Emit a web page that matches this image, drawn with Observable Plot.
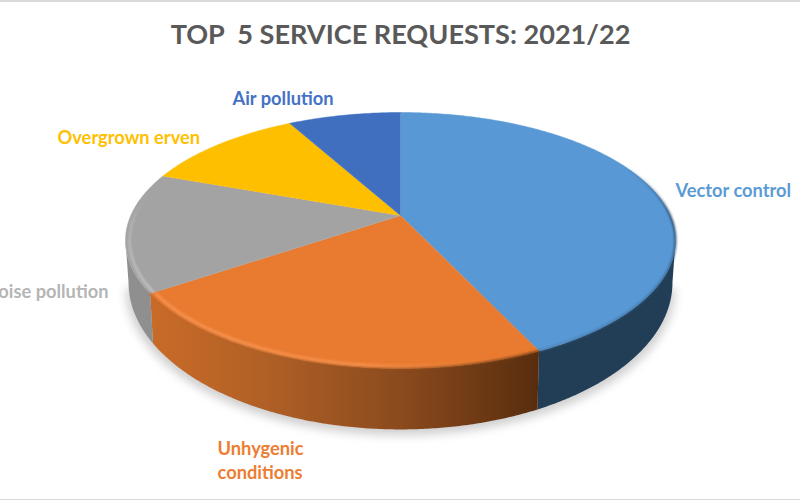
<!DOCTYPE html>
<html>
<head>
<meta charset="utf-8">
<script src="https://cdn.jsdelivr.net/npm/d3@7"></script>
<script src="https://cdn.jsdelivr.net/npm/@observablehq/plot@0.6"></script>
<style>html,body{margin:0;padding:0;background:#fff;overflow:hidden}</style>
</head>
<body>
<div id="chart"></div>
<script>
const titleText = "TOP  5 SERVICE REQUESTS: 2021/22";
const categories = ["Vector control", "Unhygenic conditions", "Noise pollution", "Overgrown erven", "Air pollution"];
const shares = [41.6, 26.6, 15.2, 10.0, 6.6];
const topColors = ["#5898d4", "#e97b30", "#a3a3a3", "#fdbf00", "#416fc0"];
const labelColors = ["#5b9bd5", "#ed7d31", "#b5b5b5", "#ffc000", "#4472c4"];
const wallFills = ["#223d56", "url(#orangeWall)", "#8f8f8f", "#997300", "#2a4478"];

// pie geometry (unit ellipse for the rim, tilted apex, perspective floor)
const apexY = -0.195;
const floor = {rx: 0.989, ry: 1.148, cy: 0.328};
const rad = d3.pie().sort(null).value(d => d)(shares);
const rim = a => ({x: Math.sin(a), y: -Math.cos(a)});
const base = a => ({x: floor.rx * Math.sin(a), y: floor.cy - floor.ry * Math.cos(a)});
const arc = (a0, a1, f) => {
  const n = Math.max(2, Math.ceil(Math.abs(a1 - a0) / 0.01));
  return d3.range(n + 1).map(i => f(a0 + (a1 - a0) * i / n));
};
const slicePts = s => [{x: 0, y: apexY}, ...arc(s.startAngle, s.endAngle, rim)];
const clipFront = s => [Math.max(s.startAngle, Math.PI / 2), Math.min(s.endAngle, 3 * Math.PI / 2)];
const wallPts = s => {
  const [a, b] = clipFront(s);
  if (b <= a) return null;
  return [...arc(a, b, rim), ...arc(b, a, base)];
};
const inset = k => a => ({x: k * Math.sin(a), y: -k * Math.cos(a)});

const marks = [];
// soft floor shadow
marks.push(Plot.line(arc(Math.PI / 2, 3 * Math.PI / 2, a => {
  const p = base(a); return {x: p.x * 1.01, y: p.y + 0.045};
}), {x: "x", y: "y", fill: "#cfcfcf", stroke: "none", imageFilter: "blur(5px)"}));
// walls
rad.forEach((s, i) => {
  const pts = wallPts(s);
  if (pts) marks.push(Plot.line(pts, {x: "x", y: "y", fill: wallFills[i], stroke: "none"}));
});
// top faces
rad.forEach((s, i) => {
  marks.push(Plot.line(slicePts(s), {x: "x", y: "y", fill: topColors[i], stroke: topColors[i], strokeWidth: 0.5}));
});
// bevel along the rim
const [sBlue, sOrange, sGray] = rad;
marks.push(Plot.line(arc(sOrange.startAngle, sOrange.endAngle, rim), {x: "x", y: "y", stroke: "url(#orangeRim)", strokeWidth: 2, imageFilter: "blur(1px)"}));
marks.push(Plot.line(arc(sOrange.startAngle + 0.01, sOrange.endAngle - 0.01, inset(0.982)), {x: "x", y: "y", stroke: "url(#orangeLip)", strokeWidth: 3, imageFilter: "blur(1.2px)"}));
marks.push(Plot.line(arc(0.3 * Math.PI, sBlue.endAngle - 0.01, rim), {x: "x", y: "y", stroke: "url(#blueRim)", strokeWidth: 2, imageFilter: "blur(1px)"}));
marks.push(Plot.line(arc(sGray.startAngle + 0.01, sGray.endAngle - 0.1, inset(0.985)), {x: "x", y: "y", stroke: "url(#grayLip)", strokeWidth: 2.5, imageFilter: "blur(1px)"}));

// text
const font = "Lato, 'Open Sans', sans-serif";
marks.push(Plot.text([titleText], {
  frameAnchor: "top-left", dx: 400, dy: 35, textAnchor: "middle", lineAnchor: "middle",
  fontFamily: font, fontWeight: 700, fontSize: 27.1, fill: "#595959"
}));
const labelLayout = [
  {dx: 675, dy: 189, anchor: "start"},
  {dx: 217, dy: 459, anchor: "start"},
  {dx: 108, dy: 290, anchor: "end"},
  {dx: 57,  dy: 136, anchor: "start"},
  {dx: 232, dy: 97,  anchor: "start"}
];
const labelText = c => c === "Unhygenic conditions" ? "Unhygenic\nconditions" : c;
categories.forEach((c, i) => {
  marks.push(Plot.text([labelText(c)], {
    frameAnchor: "top-left", dx: labelLayout[i].dx, dy: labelLayout[i].dy,
    textAnchor: labelLayout[i].anchor, lineAnchor: "middle", lineHeight: 1.3,
    fontFamily: font, fontWeight: 700, fontSize: 18.3, fill: labelColors[i]
  }));
});
// thin picture edges
marks.push(Plot.frame({anchor: "top", stroke: "#d9d9d9", strokeWidth: 3}));
marks.push(Plot.frame({anchor: "bottom", stroke: "#d9d9d9", strokeWidth: 3}));

const chart = Plot.plot({
  width: 800, height: 500, margin: 0,
  x: {domain: [-1, 1], range: [125, 675], axis: null},
  y: {domain: [-1, 1], range: [112, 368], axis: null},
  style: {background: "#fff"},
  marks
});
const defs = d3.select(chart).insert("defs", ":first-child");
const grad = (id, x1, y1, x2, y2, stops) => {
  const g = defs.append("linearGradient").attr("id", id).attr("gradientUnits", "userSpaceOnUse")
    .attr("x1", x1).attr("y1", y1).attr("x2", x2).attr("y2", y2);
  stops.forEach(([o, c, a]) => g.append("stop").attr("offset", o).attr("stop-color", c).attr("stop-opacity", a ?? 1));
};
grad("orangeWall", 150, 0, 537, 0, [[0, "#c96b28"], [0.3, "#b06026"], [0.65, "#8a4a1d"], [1, "#582d0e"]]);
grad("orangeRim", 150, 0, 537, 0, [[0, "#c96b28"], [0.4, "#a85c24"], [1, "#6b3a14"]]);
grad("orangeLip", 150, 0, 537, 0, [[0, "#f79250"], [0.55, "#f5904c"], [1, "#e97b30", 0]]);
grad("blueRim", 0, 165, 0, 350, [[0, "#1f3a55", 0], [0.3, "#1f3a55", 0.9], [0.5, "#2a4c6c", 0.8], [1, "#3a6a94", 0.5]]);
grad("grayLip", 0, 180, 0, 293, [[0, "#a3a3a3", 0], [0.4, "#b4b4b4"], [1, "#c4c4c4"]]);
document.getElementById("chart").append(chart);
</script>
</body>
</html>
